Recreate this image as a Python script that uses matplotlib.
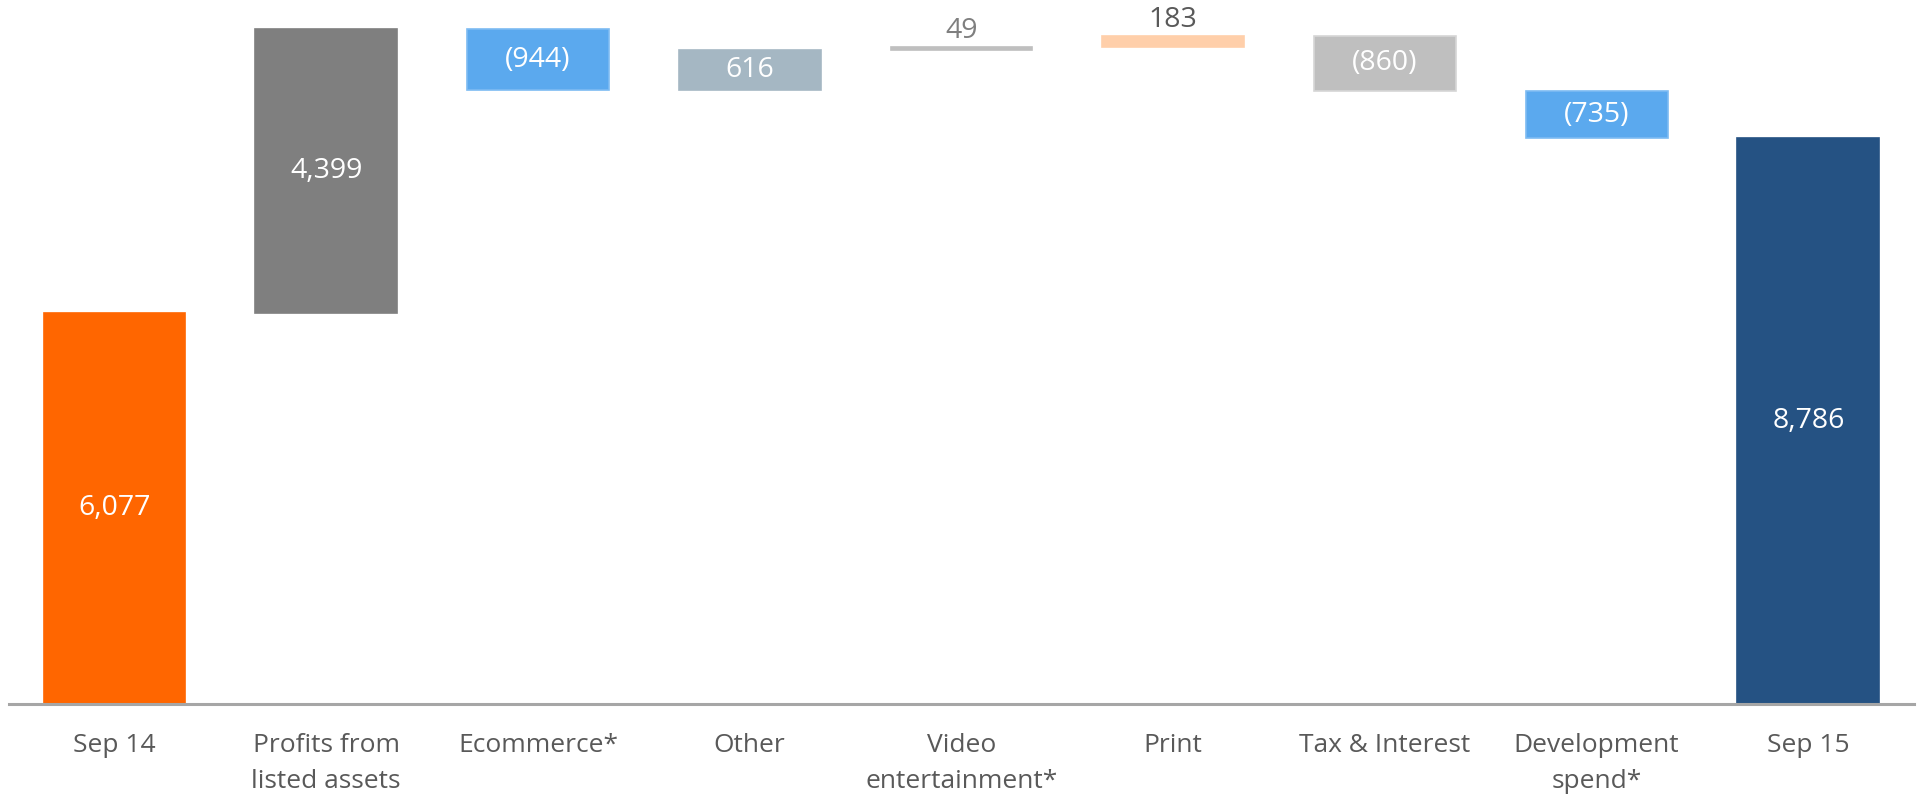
import matplotlib
matplotlib.use("Agg")
import matplotlib.pyplot as plt

plt.rcParams["font.family"] = ["Open Sans", "DejaVu Sans"]

# Bridge from Sep 14 to Sep 15
categories = ["Sep 14", "Profits from\nlisted assets", "Ecommerce*", "Other",
              "Video\nentertainment*", "Print", "Tax & Interest",
              "Development\nspend*", "Sep 15"]
values = [6077, 4399, -944, 616, 49, 183, -860, -735, 8786]
is_total = [True, False, False, False, False, False, False, False, True]

bar_colors = ["#FF6600", "#7F7F7F", "#5BA9EE", "#A5B7C3", "#BFBFBF",
              "#FFCFAA", "#BFBFBF", "#5BA9EE", "#255283"]
edge_colors = ["#FF6600", "#7F7F7F", "#7DBBF2", "#A5B7C3", "#BFBFBF",
               "#FFCFAA", "#D6D6D6", "#7DBBF2", "#255283"]
label_colors = ["white", "white", "white", "white", "#7F7F7F",
                "#595959", "white", "white", "white"]


def fmt(v):
    return f"({abs(v):,})" if v < 0 else f"{v:,}"


fig = plt.figure(figsize=(19.2, 7.96), dpi=100)
ax = fig.add_axes([0.0045, 0.1156, 0.9925, 0.8844])

running = 0
for i, (v, tot) in enumerate(zip(values, is_total)):
    if tot:
        bottom, height = 0, v
        running = v
    else:
        bottom = running if v >= 0 else running + v
        height = abs(v)
        running += v
    ax.bar(i, height, bottom=bottom, width=0.67, color=bar_colors[i],
           edgecolor=edge_colors[i], linewidth=1.2, zorder=2)
    if height < 300:
        # thin bars get their label just above the bar
        ax.annotate(fmt(v), (i, bottom + height), xytext=(0, 6.5),
                    textcoords="offset points", ha="center", va="baseline",
                    fontsize=20.5, color=label_colors[i])
    else:
        ax.text(i, bottom + height / 2, fmt(v), ha="center", va="center",
                fontsize=20.5, color=label_colors[i])

ax.set_xlim(-0.5, len(values) - 0.5)
ax.set_ylim(0, 10932)
ax.set_xticks(range(len(categories)))
ax.set_xticklabels(categories, fontsize=19, color="#595959", linespacing=1.55)
ax.tick_params(axis="x", length=0, pad=21)
ax.set_yticks([])
for side in ["top", "right", "left"]:
    ax.spines[side].set_visible(False)
ax.spines["bottom"].set_color("#A6A6A6")
ax.spines["bottom"].set_linewidth(2.2)

fig.savefig("out.png", dpi=100, facecolor="white")
